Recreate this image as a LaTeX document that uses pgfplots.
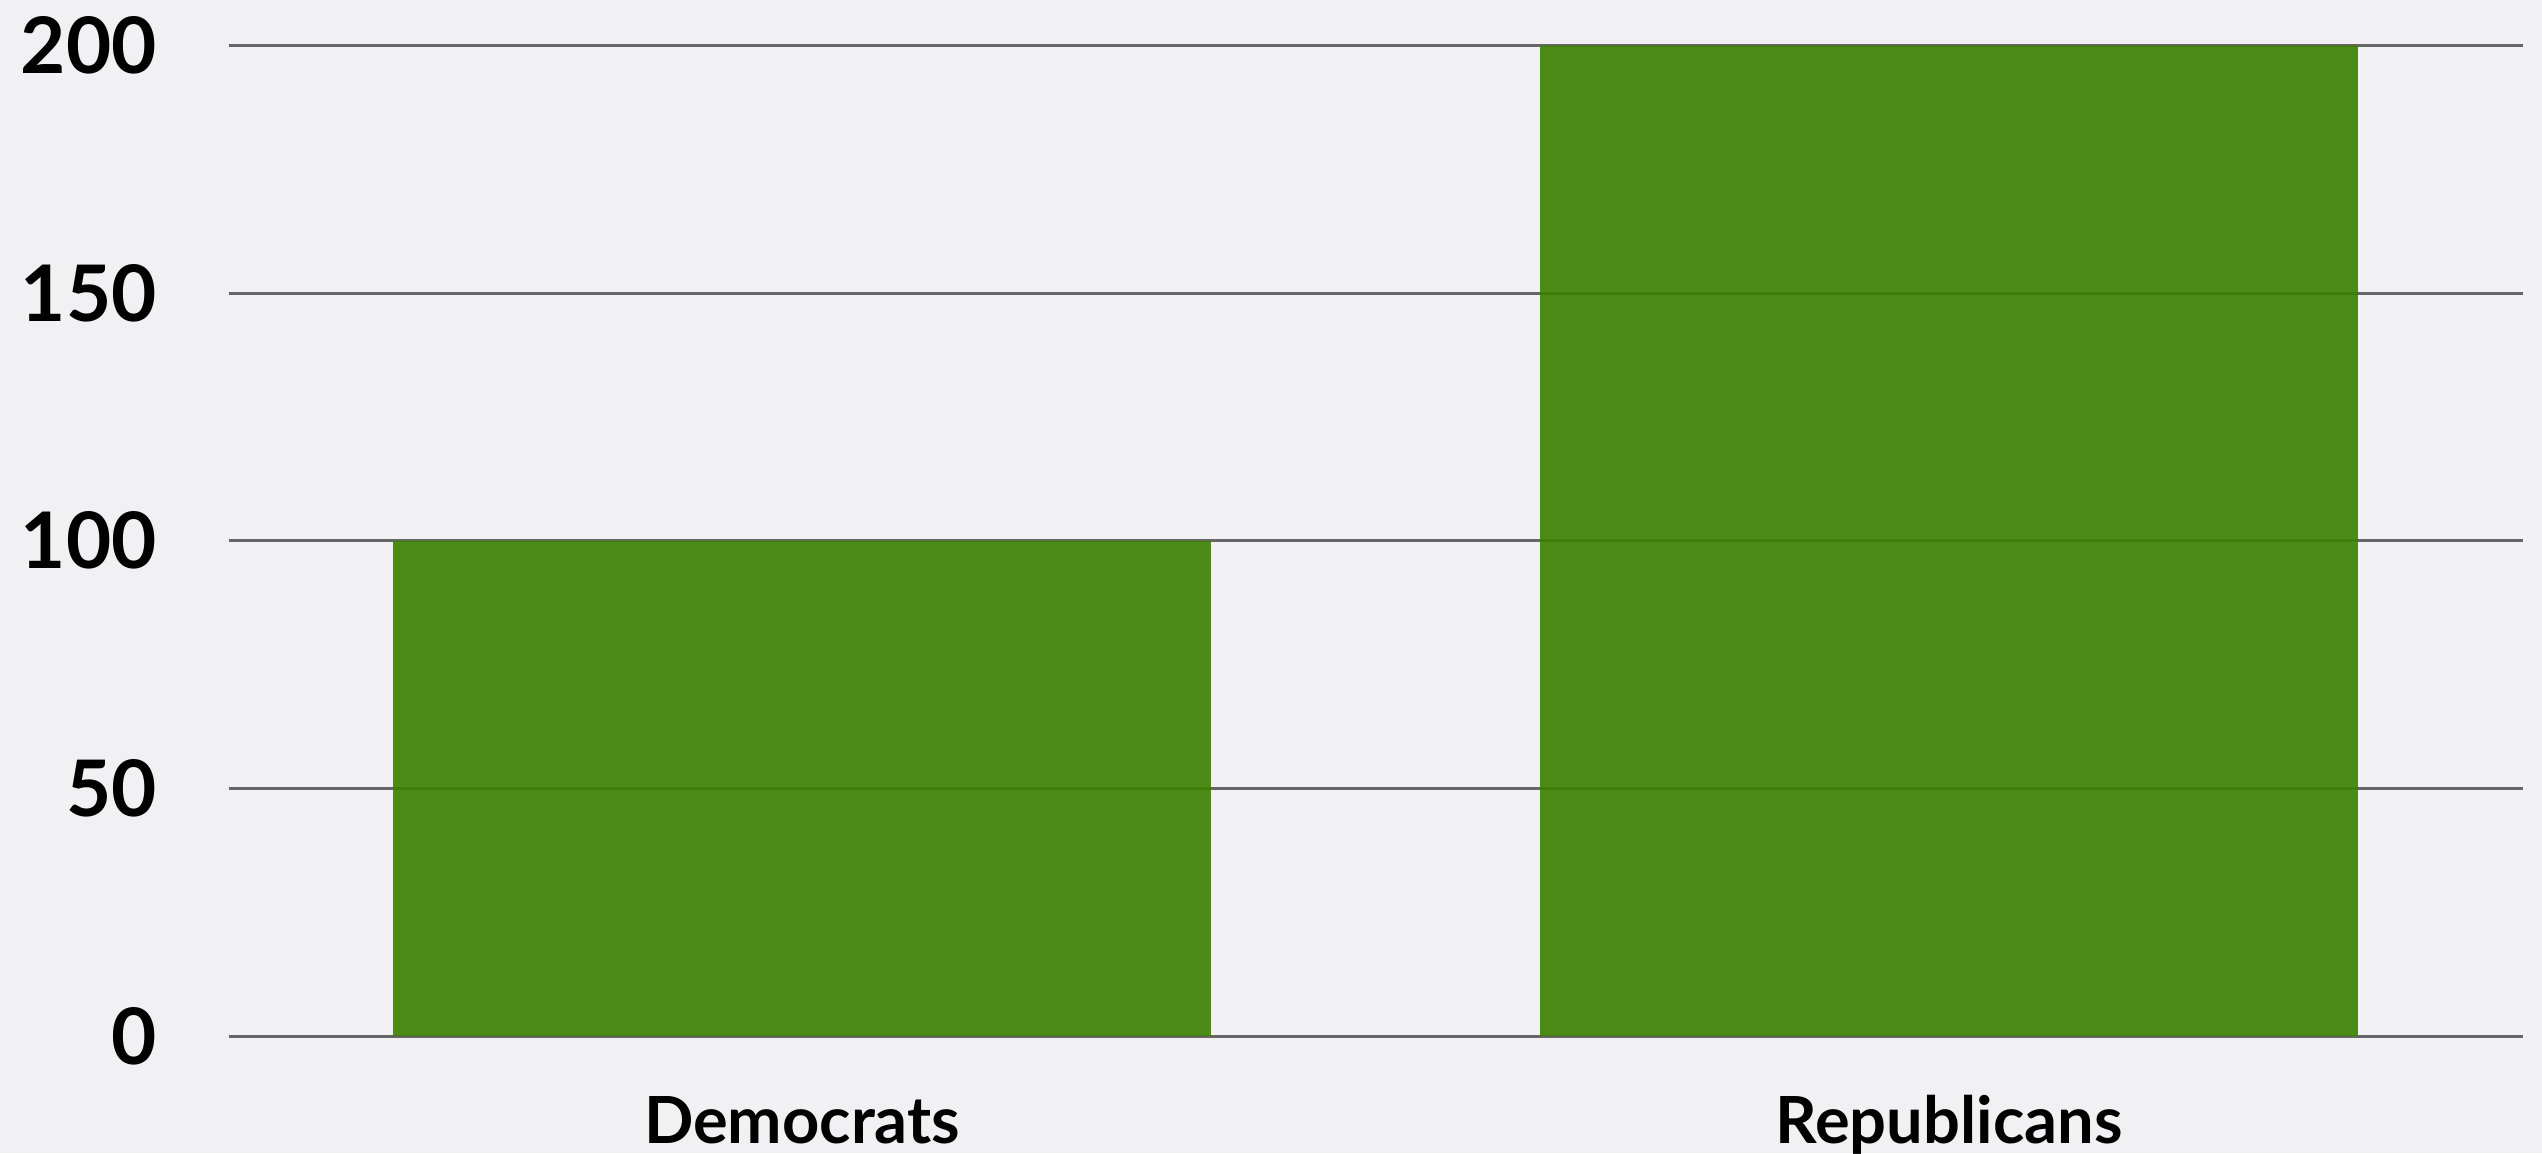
\documentclass[border=0pt]{standalone}
\usepackage{pgfplots}
\pgfplotsset{compat=1.18}
\usepackage{fontspec}
\setmainfont{Lato}
\definecolor{bg}{HTML}{F1F1F3}
\definecolor{bar}{HTML}{3C8102}
\definecolor{gridc}{HTML}{666666}
\begin{document}
\begin{tikzpicture}
\path[use as bounding box, fill=bg] (0,0) rectangle (508.4pt,230.6pt);
\begin{axis}[
  at={(45.7pt,23.4pt)}, anchor=south west,
  scale only axis, width=458.8pt, height=198.1pt,
  xmin=-0.5, xmax=1.5, ymin=0, ymax=200,
  xtick={0,1}, xticklabels={Democrats,Republicans},
  ytick={0,50,100,150,200},
  axis line style={draw=none},
  major tick length=0pt,
  ymajorgrids, xmajorgrids=false,
  major grid style={draw=gridc, line width=0.6pt},
  /pgf/number format/assume math mode=true,
  yticklabel style={anchor=east, inner sep=0pt, xshift=-14.2pt, font=\bfseries\fontsize{15.6}{16}\selectfont},
  xticklabel style={anchor=base, inner sep=0pt, yshift=-21.4pt, font=\bfseries\fontsize{13}{13}\selectfont},
  ybar, bar width=0.713,
  clip=false,
]
\addplot[draw=none, fill=bar, fill opacity=0.9] coordinates {(0,100) (1,200)};
\end{axis}
\end{tikzpicture}
\end{document}
